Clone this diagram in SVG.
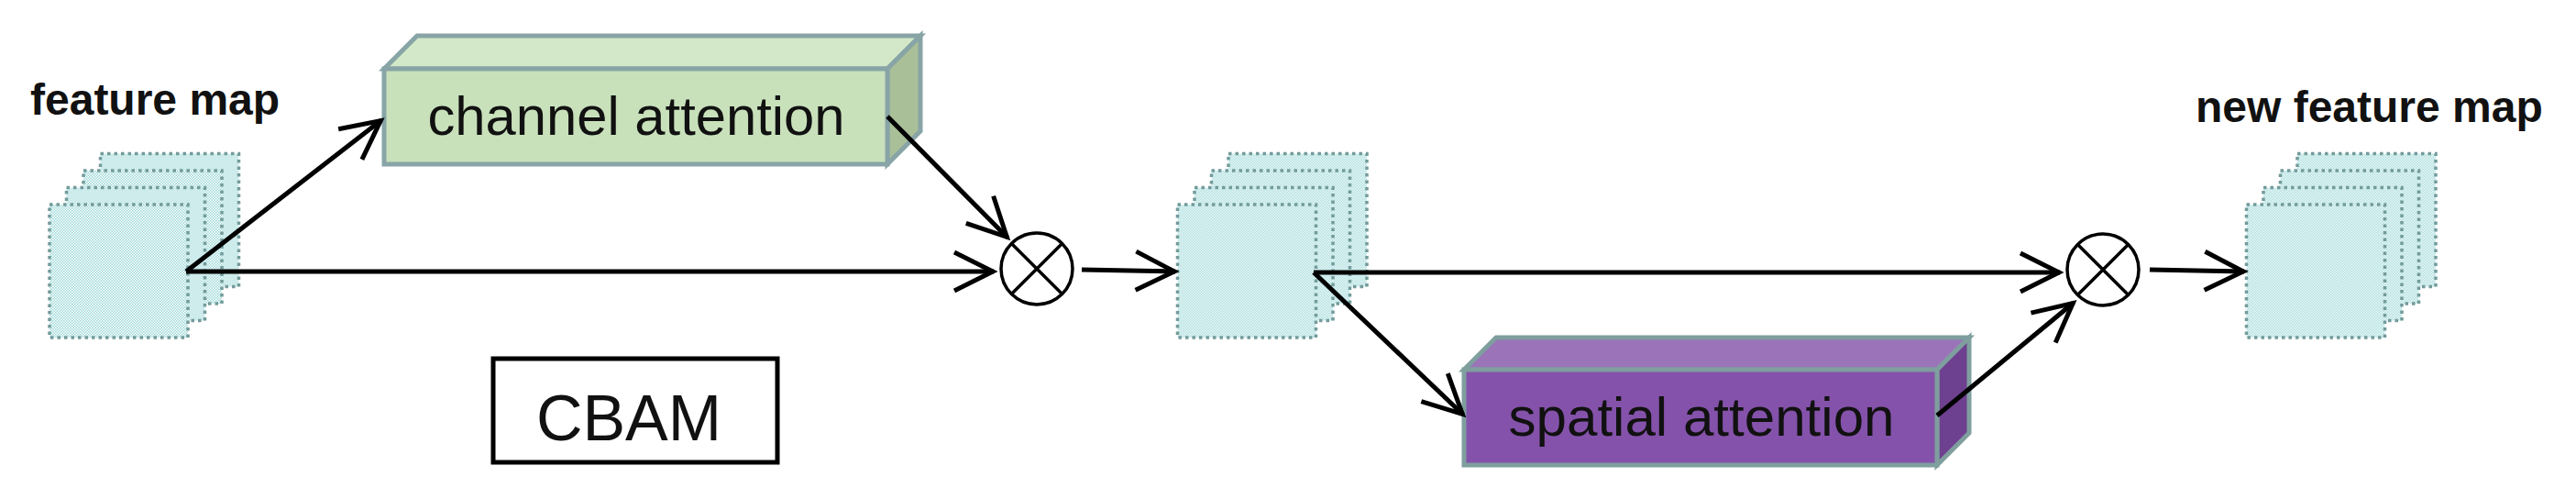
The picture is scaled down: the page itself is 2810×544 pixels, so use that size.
<svg xmlns="http://www.w3.org/2000/svg" xmlns:xlink="http://www.w3.org/1999/xlink" width="2810" height="544" viewBox="0 0 2810 544">
  <defs>
    <pattern id="dots" patternUnits="userSpaceOnUse" width="3" height="3">
      <rect width="3" height="3" fill="#ffffff"/>
      <rect width="1.5" height="1.5" fill="#9cd8d8"/>
      <rect x="1.5" y="1.5" width="1.5" height="1.5" fill="#9cd8d8"/>
    </pattern>
    <rect id="sq" width="151" height="145"/>
    <marker id="ah" markerUnits="userSpaceOnUse" markerWidth="60" markerHeight="60" refX="48" refY="30" orient="auto" overflow="visible">
      <path d="M5 9 L47 30 L5 51" fill="none" stroke="#000" stroke-width="5" stroke-linejoin="miter"/>
    </marker>
  </defs>
  <style>
    .sq { fill: url(#dots); stroke: #739b9b; stroke-width: 3.5; stroke-dasharray: 3.5 4; }
    .conn { stroke: #000; stroke-width: 5; fill: none; marker-end: url(#ah); }
    .box { stroke-width: 5; stroke-linejoin: miter; }
    .green { stroke: #88a4a6; }
    .purple { stroke: #7f9e9e; }
    .lbl { font-family: "Liberation Sans", Arial, sans-serif; fill: #111; }
    .bold { font-weight: bold; font-size: 48px; }
    .mid { text-anchor: middle; }
    .mul { fill: #fff; stroke: #000; stroke-width: 3.5; }
  </style>
  <rect width="2810" height="544" fill="#ffffff"/>

  <g id="node-feature-map">
    <text class="lbl bold" x="33" y="125">feature map</text>
    <use xlink:href="#sq" class="sq" x="109.5" y="167.5"/>
    <use xlink:href="#sq" class="sq" x="91" y="186"/>
    <use xlink:href="#sq" class="sq" x="72.5" y="204.5"/>
    <use xlink:href="#sq" class="sq" x="54" y="223"/>
  </g>

  <g id="node-channel-attention">
    <polygon class="box green" points="419,75 455,39 1004,39 968,75" fill="#d2e8c8"/>
    <polygon class="box green" points="968,75 1004,39 1004,143 968,179" fill="#a9bf98"/>
    <rect class="box green" x="419" y="75" width="549" height="104" fill="#c8e1bb"/>
    <text class="lbl mid" x="694" y="147" font-size="59" textLength="455" lengthAdjust="spacingAndGlyphs">channel attention</text>
  </g>

  <g id="node-mul1">
    <circle class="mul" cx="1131" cy="293" r="39"/>
    <path d="M1103.4 265.4 L1158.6 320.6 M1158.6 265.4 L1103.4 320.6" stroke="#000" stroke-width="3.5"/>
  </g>

  <g id="node-mid-map">
    <use xlink:href="#sq" class="sq" x="1340" y="167.5"/>
    <use xlink:href="#sq" class="sq" x="1321.5" y="186"/>
    <use xlink:href="#sq" class="sq" x="1303" y="204.5"/>
    <use xlink:href="#sq" class="sq" x="1284.5" y="223"/>
  </g>

  <g id="node-spatial-attention">
    <polygon class="box purple" points="1597,403 1632,368 2148,368 2113,403" fill="#9b73b9"/>
    <polygon class="box purple" points="2113,403 2148,368 2148,472 2113,507" fill="#6e4090"/>
    <rect class="box purple" x="1597" y="403" width="516" height="104" fill="#8452aa"/>
    <text class="lbl mid" x="1856" y="475" font-size="59" textLength="421" lengthAdjust="spacingAndGlyphs">spatial attention</text>
  </g>

  <g id="node-mul2">
    <circle class="mul" cx="2294" cy="294" r="39"/>
    <path d="M2266.4 266.4 L2321.6 321.6 M2321.6 266.4 L2266.4 321.6" stroke="#000" stroke-width="3.5"/>
  </g>

  <g id="node-new-feature-map">
    <text class="lbl bold" x="2395" y="133">new feature map</text>
    <use xlink:href="#sq" class="sq" x="2506" y="167.5"/>
    <use xlink:href="#sq" class="sq" x="2487.5" y="186"/>
    <use xlink:href="#sq" class="sq" x="2469" y="204.5"/>
    <use xlink:href="#sq" class="sq" x="2450.5" y="223"/>
  </g>

  <g id="node-cbam">
    <rect x="538" y="391" width="310" height="113" fill="#fff" stroke="#000" stroke-width="5"/>
    <text class="lbl mid" x="686" y="480" font-size="70">CBAM</text>
  </g>

  <g id="connectors">
    <line class="conn" x1="203" y1="296" x2="416" y2="131"/>
    <line class="conn" x1="203" y1="296" x2="1084" y2="296"/>
    <line class="conn" x1="968" y1="127" x2="1099" y2="259"/>
    <line class="conn" x1="1180" y1="294" x2="1282" y2="296"/>
    <line class="conn" x1="1433" y1="297" x2="2247" y2="297"/>
    <line class="conn" x1="1433" y1="297" x2="1596" y2="452"/>
    <line class="conn" x1="2113" y1="453" x2="2262" y2="330"/>
    <line class="conn" x1="2345" y1="294" x2="2448" y2="296"/>
  </g>
</svg>
